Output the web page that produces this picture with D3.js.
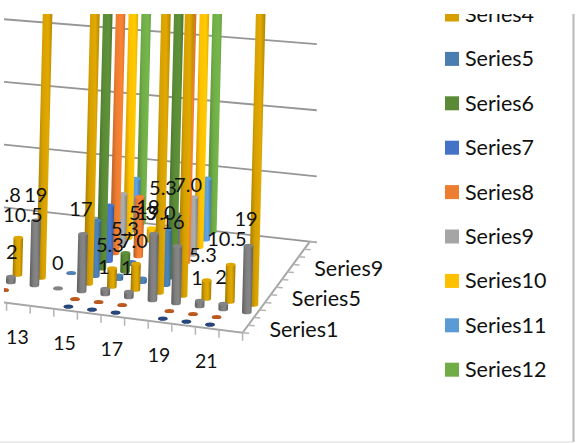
<!DOCTYPE html>
<html>
<head>
<meta charset="utf-8">
<script src="https://cdn.jsdelivr.net/npm/d3@7"></script>
<style>
  html, body { margin: 0; background: #fff; }
  text { font-family: Lato, "Open Sans", sans-serif; fill: #111; }
</style>
</head>
<body>
<div id="chart"></div>
<script>
let width  = 576,
    height = 443;

// values, one entry per category 12..22 (tall bars run off the top)
// null means no mark is visible for that cell
let categories = [12, 13, 14, 15, 16, 17, 18, 19, 20, 21, 22];
let seriesNames = ["Series1", "Series2", "Series3", "Series4", "Series5", "Series6",
                   "Series7", "Series8", "Series9", "Series10", "Series11", "Series12"];
let seriesColors = ["#264478", "#b5561c", "#7f7f7f", "#d6a000", "#4a7eb0", "#5a8a36",
                    "#4472c4", "#ed7d31", "#a5a5a5", "#ffc000", "#5b9bd5", "#70ad47"];

let series1  = [null, null, null, 0, 0, 0, null, 0, 0, 0, null];
let series2  = [0, null, null, 0, 0, 0, null, 0, 0, 0, null];
let series3  = [0.3, 3.5, 0, 3.1, 0.3, 0.3, 3.6, 3.1, 0.3, 0.3, 3.6];
let series4  = [2, 19, null, 19, 1, 1.4, 19, 19, 1, 2, 19];
let series5  = [null, null, 0, 3, 0.2, 0.2, 3, null, null, null, null];
let series6  = [null, null, null, 19, 1, null, 19, null, null, null, null];
let series7  = [null, null, null, 3, 0.1, null, 3, null, null, null, null];
let series8  = [null, null, null, 19, 3.2, null, 19, null, null, null, null];
let series9  = [null, null, null, 2.8, null, null, 3.1, null, null, null, null];
let series10 = [null, null, null, 19, 0.7, null, 19, null, null, null, null];
let series11 = [null, null, null, 2.8, null, null, 3.3, null, null, null, null];
let series12 = [null, null, null, 19, null, null, 19, null, null, null, null];
let seriesValues = [series1, series2, series3, series4, series5, series6,
                    series7, series8, series9, series10, series11, series12];

let xTickLabels = [13, 15, 17, 19, 21];
let depthTickLabels = ["Series1", "Series5", "Series9"];
let legendNames = seriesNames.slice(3);
let wallTicks = [0, 4, 8, 12];

let labelTexts = ["7.8", "19", "10.5", "2", "0", "17", "1", "5.3", "1", "5.3", "7.0", "5.3",
                  "19", "19.0", "16", "5.3", "7.0", "19", "10.5", "5.3", "1", "2"];

// where the labels sit: [category position, lift above the Series4 row]
let labelSpots = [[11.55, 4.24], [12.78, 4.43], [12.23, 3.26], [11.76, 1.19], [13.71, 0.91],
                  [14.69, 3.99], [15.66, 1.01], [15.92, 2.24], [16.64, 1.11], [16.56, 3.21],
                  [16.94, 2.62], [17.32, 4.2], [17.53, 4.56], [17.87, 4.29], [18.59, 3.92],
                  [18.17, 5.69], [19.23, 6.02], [21.69, 4.58], [20.88, 3.37], [19.86, 2.34],
                  [19.61, 1.05], [20.63, 1.27]];

let svg =
  d3.select("#chart")
    .append("svg")
      .attr("width", width)
      .attr("height", height)
      .style("display", "block");

let defs = svg.append("defs");

defs.append("clipPath")
    .attr("id", "plotClip")
  .append("rect")
    .attr("x", 4).attr("y", 14)
    .attr("width", 430).attr("height", 420);

defs.append("clipPath")
    .attr("id", "legendClip")
  .append("rect")
    .attr("x", 434).attr("y", 14)
    .attr("width", 138).attr("height", 420);

// cylinder shading, one gradient per series
seriesColors.forEach(function(c, i) {
  let g = defs.append("linearGradient").attr("id", "cyl" + i);
  g.append("stop").attr("offset", "0%").attr("stop-color", d3.color(c).darker(0.9));
  g.append("stop").attr("offset", "35%").attr("stop-color", c);
  g.append("stop").attr("offset", "65%").attr("stop-color", d3.color(c).brighter(0.15));
  g.append("stop").attr("offset", "100%").attr("stop-color", d3.color(c).darker(0.8));
});

// pseudo 3D projection: category and series index go along the two floor directions
let xAlong = d3.scaleLinear().domain([21, 22]).range([210, 233.6]);
let yAlong = d3.scaleLinear().domain([21, 22]).range([324.5, 327.5]);
let barDepthX = d3.scaleLinear().domain([1, 2]).range([0, 6.6]);
let floorDepthX = d3.scaleLinear().domain([1, 2]).range([0, 5.6]);
let depthY = d3.scaleLinear().domain([1, 2]).range([0, -7.6]);
let heightPx = d3.scaleLinear().domain([0, 1]).range([0, 18.5]);
let wallPx = d3.scaleLinear().domain([0, 1]).range([0, 16.5]);

function barPoint(c, s)   { return [xAlong(c) + barDepthX(s), yAlong(c) + depthY(s)]; }
function floorPoint(c, s) { return [xAlong(c) + floorDepthX(s), yAlong(c) + depthY(s)]; }

let line = d3.line();
let plot = svg.append("g").attr("clip-path", "url(#plotClip)");

// back wall lines
let backRight = floorPoint(22.5, 12.5);
plot.selectAll(".wall")
    .data(wallTicks)
    .enter()
  .append("path")
    .attr("class", "wall")
    .attr("d", function(d) {
      let y = backRight[1] - wallPx(d);
      // the upper lines flatten a little towards the top
      let slope = 0.112 - d * 0.0027;
      return line([[backRight[0] + 7, y + slope * 7], [0, y - slope * backRight[0]]]);
    })
    .attr("fill", "none")
    .attr("stroke", "#969696")
    .attr("stroke-width", 1.8);

// floor edges and their ticks
let frontLeft  = floorPoint(11.9, 0.5),
    frontRight = floorPoint(22.5, 0.5);

plot.append("path")
    .attr("d", line([frontLeft, frontRight, backRight]))
    .attr("fill", "none")
    .attr("stroke", "#a6a6a6")
    .attr("stroke-width", 2);

plot.selectAll(".xtick")
    .data(d3.range(12.5, 23.5))
    .enter()
  .append("path")
    .attr("class", "xtick")
    .attr("d", function(d) {
      let p = floorPoint(d, 0.5);
      return line([p, [p[0], p[1] + 8]]);
    })
    .attr("stroke", "#b5b5b5")
    .attr("stroke-width", 1.5);

plot.selectAll(".ztick")
    .data(d3.range(0.5, 13.5))
    .enter()
  .append("path")
    .attr("class", "ztick")
    .attr("d", function(d) {
      let p = floorPoint(22.5, d);
      return line([p, [p[0] + 6.5, p[1] + 0.5]]);
    })
    .attr("stroke", "#b5b5b5")
    .attr("stroke-width", 1.5);

// bars, far rows first and left to right inside a row
let bars = [];
d3.range(12, 0, -1).forEach(function(s) {
  categories.forEach(function(c, i) {
    let v = seriesValues[s - 1][i];
    if (v !== null) bars.push({c: c, s: s, value: v});
  });
});

let radius = 4.8, lean = 0.025;

let bar = plot.selectAll(".bar")
    .data(bars)
    .enter()
  .append("g")
    .attr("class", "bar");

bar.append("path")
    .attr("fill", function(d) { return "url(#cyl" + (d.s - 1) + ")"; })
    .attr("d", function(d) {
      let b = barPoint(d.c, d.s),
          h = heightPx(d.value),
          tx = b[0] + h * lean,
          ty = b[1] - h,
          ry = radius * 0.42;
      return "M" + (b[0] - radius) + "," + b[1] +
             "A" + radius + "," + ry + " 0 0 0 " + (b[0] + radius) + "," + b[1] +
             "L" + (tx + radius) + "," + ty +
             "L" + (tx - radius) + "," + ty + "Z";
    });

bar.append("ellipse")
    .attr("cx", function(d) { return barPoint(d.c, d.s)[0] + heightPx(d.value) * lean; })
    .attr("cy", function(d) { return barPoint(d.c, d.s)[1] - heightPx(d.value); })
    .attr("rx", radius)
    .attr("ry", radius * 0.42)
    .attr("fill", function(d) { return d3.color(seriesColors[d.s - 1]).brighter(0.1); });

// data labels
plot.selectAll(".dlabel")
    .data(labelTexts)
    .enter()
  .append("text")
    .attr("class", "dlabel")
    .attr("text-anchor", "middle")
    .attr("dy", "0.35em")
    .attr("font-size", 20)
    .attr("x", function(d, i) { return barPoint(labelSpots[i][0], 4)[0]; })
    .attr("y", function(d, i) { return barPoint(labelSpots[i][0], 4)[1] - heightPx(labelSpots[i][1]); })
    .text(function(d) { return d; });

// axis labels
plot.selectAll(".xlabel")
    .data(xTickLabels)
    .enter()
  .append("text")
    .attr("class", "xlabel")
    .attr("text-anchor", "middle")
    .attr("dy", "0.35em")
    .attr("font-size", 19.5)
    .attr("x", function(d) { return floorPoint(d, 0.5)[0] - 1; })
    .attr("y", function(d) { return floorPoint(d, 0.5)[1] + 33; })
    .text(function(d) { return d; });

plot.selectAll(".zlabel")
    .data(depthTickLabels)
    .enter()
  .append("text")
    .attr("class", "zlabel")
    .attr("dy", "0.35em")
    .attr("font-size", 21.5)
    .attr("x", function(d) { return floorPoint(22.5, seriesNames.indexOf(d) + 1)[0] + 24; })
    .attr("y", function(d) { return floorPoint(22.5, seriesNames.indexOf(d) + 1)[1]; })
    .text(function(d) { return d; });

// legend
let legendY = d3.scaleLinear().domain([0, 1]).range([14.5, 58.9]);

let legend = svg.append("g").attr("clip-path", "url(#legendClip)")
  .selectAll(".legend")
    .data(legendNames)
    .enter()
  .append("g")
    .attr("class", "legend")
    .attr("transform", function(d, i) { return "translate(445," + legendY(i) + ")"; });

legend.append("rect")
    .attr("y", -7).attr("width", 14).attr("height", 14)
    .attr("fill", function(d) { return seriesColors[seriesNames.indexOf(d)]; });

legend.append("text")
    .attr("x", 20)
    .attr("dy", "0.35em")
    .attr("font-size", 21.5)
    .text(function(d) { return d; });

// frame edges
svg.append("path")
    .attr("d", line([[573.5, 14], [573.5, 442]]))
    .attr("stroke", "#b8b8b8")
    .attr("stroke-width", 2);

svg.append("path")
    .attr("d", line([[0, 442], [573, 442]]))
    .attr("stroke", "#dcdcdc")
    .attr("stroke-width", 1.2);
</script>
</body>
</html>
